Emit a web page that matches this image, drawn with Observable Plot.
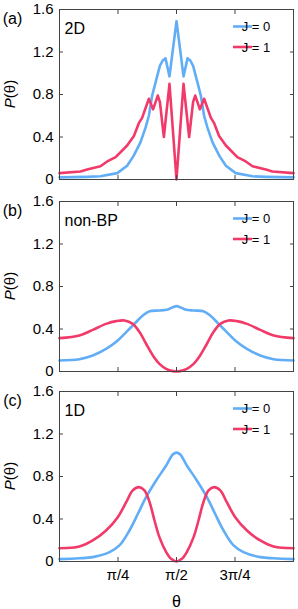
<!DOCTYPE html>
<html><head><meta charset="utf-8">
<script src="https://cdn.jsdelivr.net/npm/d3@7"></script>
<script src="https://cdn.jsdelivr.net/npm/@observablehq/plot@0.6"></script>
<style>
body{margin:0;background:#fff;width:298px;height:609px;overflow:hidden;font-family:"Liberation Sans",Arial,sans-serif}
#wrap{width:298px}
svg{display:block}
</style></head><body><div id="wrap"></div>
<script>
const panelLetters = ["(a)", "(b)", "(c)"];
const panelNames = ["2D", "non-BP", "1D"];
const seriesNames = ["J = 0", "J = 1"];
const seriesColors = ["#61aef6", "#f23a6a"];
const yTicks = [0, 0.4, 0.8, 1.2, 1.6];
const yTickLabels = ["0", "0.4", "0.8", "1.2", "1.6"];
const xTicks = [0.25, 0.5, 0.75]; // θ in units of π
const xTickLabels = ["π/4", "π/2", "3π/4"];
const xLabel = "θ";

// (a) 2D
const a0Theta = [0, 0.118, 0.175, 0.247, 0.289, 0.316, 0.346, 0.368, 0.382, 0.396, 0.410, 0.429, 0.441, 0.453, 0.470, 0.5, 0.530, 0.547, 0.559, 0.571, 0.590, 0.604, 0.618, 0.632, 0.654, 0.684, 0.711, 0.753, 0.825, 0.882, 1];
const a0P = [0.02, 0.025, 0.03, 0.06, 0.13, 0.22, 0.35, 0.49, 0.60, 0.79, 0.91, 1.07, 1.12, 1.14, 0.97, 1.49, 0.97, 1.14, 1.12, 1.07, 0.91, 0.79, 0.60, 0.49, 0.35, 0.22, 0.13, 0.06, 0.03, 0.025, 0.02];
const a1Theta = [0, 0.09, 0.118, 0.175, 0.204, 0.24, 0.289, 0.318, 0.339, 0.353, 0.382, 0.400, 0.420, 0.429, 0.446, 0.470, 0.5, 0.530, 0.554, 0.571, 0.580, 0.600, 0.618, 0.647, 0.661, 0.682, 0.711, 0.76, 0.796, 0.825, 0.882, 0.91, 1];
const a1P = [0.06, 0.075, 0.095, 0.125, 0.17, 0.21, 0.32, 0.41, 0.53, 0.58, 0.76, 0.66, 0.79, 0.73, 0.40, 0.90, 0.0, 0.90, 0.40, 0.73, 0.79, 0.66, 0.76, 0.58, 0.53, 0.41, 0.32, 0.21, 0.17, 0.125, 0.095, 0.075, 0.06];

// (b) non-BP
const b0Theta = [0, 0.085, 0.142, 0.199, 0.249, 0.285, 0.320, 0.356, 0.385, 0.427, 0.463, 0.484, 0.5, 0.516, 0.537, 0.573, 0.615, 0.644, 0.680, 0.715, 0.751, 0.801, 0.858, 0.915, 1];
const b0P = [0.104, 0.116, 0.151, 0.213, 0.292, 0.371, 0.448, 0.527, 0.568, 0.574, 0.584, 0.605, 0.615, 0.605, 0.584, 0.574, 0.568, 0.527, 0.448, 0.371, 0.292, 0.213, 0.151, 0.116, 0.104];
const b1Theta = [0, 0.085, 0.142, 0.199, 0.242, 0.278, 0.313, 0.342, 0.370, 0.399, 0.427, 0.456, 0.48, 0.5, 0.52, 0.544, 0.573, 0.601, 0.630, 0.658, 0.687, 0.722, 0.758, 0.801, 0.858, 0.915, 1];
const b1P = [0.314, 0.339, 0.392, 0.448, 0.474, 0.48, 0.448, 0.371, 0.261, 0.151, 0.072, 0.025, 0.006, 0, 0.006, 0.025, 0.072, 0.151, 0.261, 0.371, 0.448, 0.48, 0.474, 0.448, 0.392, 0.339, 0.314];

// (c) 1D
const c0Theta = [0, 0.085, 0.142, 0.214, 0.256, 0.299, 0.335, 0.370, 0.413, 0.456, 0.484, 0.5, 0.516, 0.544, 0.587, 0.630, 0.665, 0.701, 0.744, 0.786, 0.858, 0.915, 1];
const c0P = [0.022, 0.03, 0.041, 0.088, 0.151, 0.292, 0.449, 0.606, 0.763, 0.904, 1.007, 1.025, 1.007, 0.904, 0.763, 0.606, 0.449, 0.292, 0.151, 0.088, 0.041, 0.03, 0.022];
const c1Theta = [0, 0.085, 0.142, 0.199, 0.249, 0.285, 0.313, 0.339, 0.363, 0.385, 0.406, 0.427, 0.456, 0.477, 0.5, 0.523, 0.544, 0.573, 0.594, 0.615, 0.637, 0.661, 0.687, 0.715, 0.751, 0.801, 0.858, 0.915, 1];
const c1P = [0.125, 0.141, 0.198, 0.292, 0.417, 0.558, 0.669, 0.70, 0.669, 0.558, 0.386, 0.229, 0.088, 0.025, 0, 0.025, 0.088, 0.229, 0.386, 0.558, 0.669, 0.70, 0.669, 0.558, 0.417, 0.292, 0.198, 0.141, 0.125];

const FONT = '"Liberation Sans", Arial, sans-serif';
const toRows = (th, p, s) => th.map((t, i) => ({theta: t, P: p[i], series: s}));

const panels = [
  {data: [...toRows(a0Theta, a0P, seriesNames[0]), ...toRows(a1Theta, a1P, seriesNames[1])], curve: "linear", height: 196, mt: 9, mb: 17, xlabels: false},
  {data: [...toRows(b0Theta, b0P, seriesNames[0]), ...toRows(b1Theta, b1P, seriesNames[1])], curve: "catmull-rom", height: 189, mt: 5, mb: 14, xlabels: false},
  {data: [...toRows(c0Theta, c0P, seriesNames[0]), ...toRows(c1Theta, c1P, seriesNames[1])], curve: "catmull-rom", height: 224, mt: 6, mb: 48, xlabels: true}
];

const wrap = document.getElementById("wrap");
panels.forEach((pn, i) => {
  const marks = [
    Plot.line(pn.data, {x: "theta", y: "P", stroke: "series", z: "series", curve: pn.curve, strokeWidth: 2.6, strokeLinejoin: "round"}),
    Plot.frame({stroke: "#444", strokeWidth: 1}),
    Plot.axisY(yTicks, {anchor: "left", tickSize: -4, tickPadding: 10, stroke: "#444", fontSize: 15, tickFormat: d => yTickLabels[yTicks.indexOf(d)], label: null}),
    Plot.axisY(yTicks, {anchor: "right", tickSize: -4, stroke: "#444", tickFormat: () => "", label: null}),
    Plot.axisX(xTicks, {anchor: "top", tickSize: -4, stroke: "#444", tickFormat: () => "", label: null}),
    Plot.axisX(xTicks, {anchor: "bottom", tickSize: -4, tickPadding: 12, stroke: "#444", fontSize: 15, tickFormat: pn.xlabels ? (d => xTickLabels[xTicks.indexOf(d)]) : () => "", label: null}),
    Plot.text([panelNames[i]], {frameAnchor: "top-left", dx: 5, dy: 13, lineAnchor: "top", textAnchor: "start", fontSize: 16, fill: "#000"}),
    Plot.text([panelLetters[i]], {frameAnchor: "top-left", dx: -47, dy: 9, lineAnchor: "middle", textAnchor: "middle", fontSize: 16, fill: "#000"})
  ];
  if (pn.xlabels) marks.push(Plot.text([xLabel], {frameAnchor: "bottom", dy: 45, lineAnchor: "bottom", fontSize: 16, fill: "#000"}));
  const chart = Plot.plot({
    width: 298, height: pn.height,
    marginLeft: 59, marginRight: 5, marginTop: pn.mt, marginBottom: pn.mb,
    x: {domain: [0, 1], axis: null},
    y: {domain: [0, 1.6], axis: null},
    color: {domain: seriesNames, range: seriesColors},
    style: {fontFamily: FONT, fontSize: "15px", color: "#000", background: "#fff", overflow: "visible"},
    marks
  });
  wrap.appendChild(chart);
  const svg = d3.select(chart);
  // y label with italic P
  const cy = pn.mt + 85;
  const yl = svg.append("text").attr("transform", `translate(15,${cy}) rotate(-90)`)
    .attr("text-anchor", "middle").attr("font-size", 15).attr("fill", "#000").attr("font-family", FONT);
  yl.append("tspan").attr("font-style", "italic").text("P");
  yl.append("tspan").text("(θ)");
  // legend
  const lg = svg.append("g");
  seriesNames.forEach((s, k) => {
    const y = pn.mt + 17.5 + k * 20.5;
    lg.append("line").attr("x1", 233).attr("x2", 252).attr("y1", y).attr("y2", y)
      .attr("stroke", seriesColors[k]).attr("stroke-width", 2.6);
    lg.append("text").attr("x", 256).attr("y", y).attr("dy", "0.35em").attr("font-size", 13)
      .attr("font-family", FONT).attr("fill", "#000").text(s);
  });
});
</script></body></html>
